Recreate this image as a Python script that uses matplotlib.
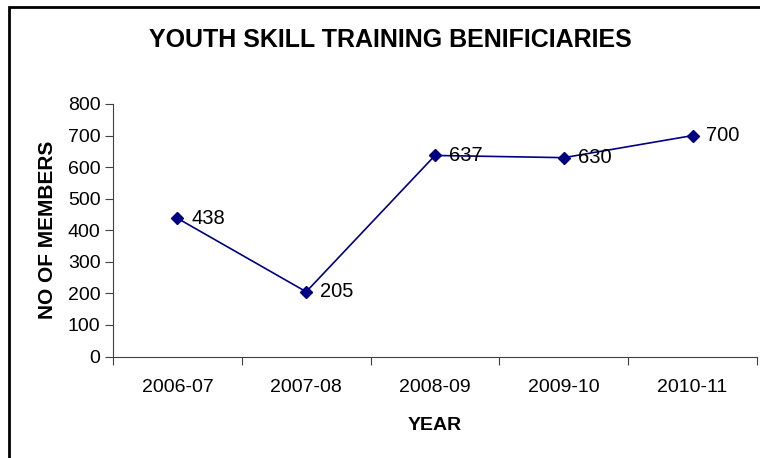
import matplotlib
matplotlib.use('Agg')
import matplotlib.pyplot as plt
from matplotlib.patches import Rectangle

years = ['2006-07', '2007-08', '2008-09', '2009-10', '2010-11']
members = [438, 205, 637, 630, 700]

plt.rcParams['font.family'] = ['Liberation Sans', 'DejaVu Sans']

fig = plt.figure(figsize=(7.6, 4.58), dpi=100)
ax = fig.add_axes([113 / 760, 1 - 356.5 / 458, (757 - 113) / 760, (356.5 - 104) / 458])

x = range(len(years))
ax.plot(x, members, color='#000080', lw=1.2, marker='D', ms=6.5, mfc='#000080', mec='#000080')
for i, v in zip(x, members):
    ax.annotate(str(v), (i, v), xytext=(10, 0), textcoords='offset points',
                va='center', ha='left', fontsize=14.5)

ax.set_xlim(-0.5, len(years) - 0.5)
ax.set_ylim(0, 800)
ax.set_yticks(range(0, 801, 100))
ax.set_xticks([i + 0.5 for i in range(-1, len(years))], minor=False)
ax.set_xticklabels([])
ax.set_xticks(list(x), minor=True)
ax.set_xticklabels(years, minor=True)
ax.tick_params(axis='x', which='minor', length=0, pad=16, labelsize=14)
ax.tick_params(axis='x', which='major', length=6, direction='out', color='#404040')
ax.tick_params(axis='y', length=6, direction='out', color='#404040', labelsize=14, pad=3)

for s in ['top', 'right']:
    ax.spines[s].set_visible(False)
for s in ['left', 'bottom']:
    ax.spines[s].set_color('#404040')

ax.set_ylabel('NO OF MEMBERS', fontsize=15, fontweight='bold', labelpad=8)
ax.set_xlabel('YEAR', fontsize=14, fontweight='bold', labelpad=15)
fig.text(0.513, 1 - 40 / 458, 'YOUTH SKILL TRAINING BENIFICIARIES', ha='center', va='center',
         fontsize=18, fontweight='bold')

fig.patches.append(Rectangle((9 / 760, -0.1), 1.2, 1 - 7 / 458 + 0.1, transform=fig.transFigure,
                             fill=False, edgecolor='black', lw=2, zorder=10))

fig.savefig('out.png', dpi=100)
